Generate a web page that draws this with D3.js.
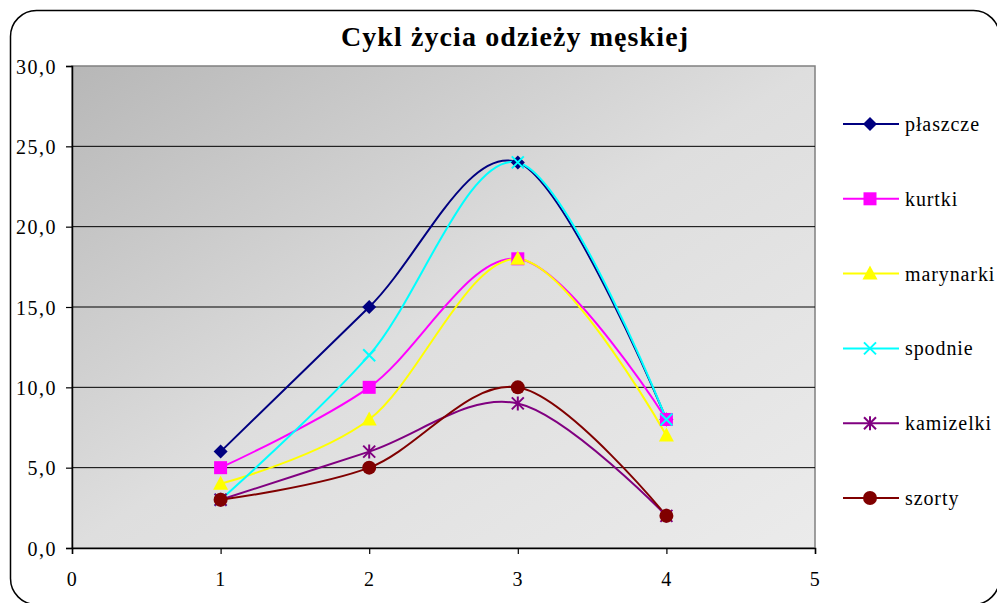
<!DOCTYPE html>
<html>
<head>
<meta charset="utf-8">
<script src="https://cdn.jsdelivr.net/npm/d3@7"></script>
<style>
  body { margin: 0; background: #fff; }
  svg, svg text { font-family: "Liberation Serif", "Times New Roman", Times, serif; }
</style>
</head>
<body>
<div id="chart"></div>
<script>
const width = 997, height = 603;
const margin = { top: 66, right: 182, bottom: 55, left: 72 };
const serif = "'Liberation Serif', 'Times New Roman', Times, serif";

// Data
const xValues = [1, 2, 3, 4];
const seriesNames = ["płaszcze", "kurtki", "marynarki", "spodnie", "kamizelki", "szorty"];
const plaszcze = [6, 15, 24, 8];
const kurtki = [5, 10, 18, 8];
const marynarki = [4, 8, 18, 7];
const spodnie = [3, 12, 24, 8];
const kamizelki = [3, 6, 9, 2];
const szorty = [3, 5, 10, 2];
const seriesColors = ["#000080", "#ff00ff", "#ffff00", "#00ffff", "#800080", "#800000"];
const seriesMarkers = ["diamond", "square", "triangle", "x", "asterisk", "circle"];
const yTicks = [0, 5, 10, 15, 20, 25, 30];
const xTicks = [0, 1, 2, 3, 4, 5];

const allValues = [plaszcze, kurtki, marynarki, spodnie, kamizelki, szorty];
const series = seriesNames.map((name, i) => ({
    name,
    color: seriesColors[i],
    marker: seriesMarkers[i],
    values: xValues.map((x, j) => ({ x, y: allValues[i][j] }))
}));

const svg = d3.select("#chart").append("svg")
    .attr("width", width)
    .attr("height", height)
    .attr("font-family", serif);

// Outer rounded frame (runs slightly past the right and bottom edges)
svg.append("rect")
    .attr("x", 10.5).attr("y", 10.5)
    .attr("width", 989).attr("height", 594)
    .attr("rx", 26).attr("ry", 26)
    .attr("fill", "#fff")
    .attr("stroke", "#000")
    .attr("stroke-width", 1.5);

const xScale = d3.scaleLinear().domain([0, 5]).range([margin.left, width - margin.right]);
const yScale = d3.scaleLinear().domain([0, 30]).range([height - margin.bottom, margin.top]);

// Gradient background
const grad = svg.append("defs").append("linearGradient")
    .attr("id", "bg")
    .attr("x1", "0").attr("y1", "0").attr("x2", "1").attr("y2", "1");
grad.append("stop").attr("offset", "0%").attr("stop-color", "#b7b7b7");
grad.append("stop").attr("offset", "50%").attr("stop-color", "#dedede");
grad.append("stop").attr("offset", "100%").attr("stop-color", "#ebebeb");

const px0 = xScale(0), px1 = xScale(5), py0 = yScale(30), py1 = yScale(0);
svg.append("rect")
    .attr("x", px0).attr("y", py0)
    .attr("width", px1 - px0).attr("height", py1 - py0)
    .attr("fill", "url(#bg)")
    .attr("stroke", "#808080")
    .attr("stroke-width", 1.5);

// Gridlines
svg.append("g")
    .selectAll("line")
    .data(yTicks.filter(d => d > 0 && d < 30))
    .join("line")
    .attr("x1", px0).attr("x2", px1)
    .attr("y1", d => yScale(d)).attr("y2", d => yScale(d))
    .attr("stroke", "#000")
    .attr("stroke-width", 1);

// Axes
const yAxis = svg.append("g")
    .attr("transform", `translate(${px0},0)`)
    .call(d3.axisLeft(yScale).tickValues(yTicks).tickSize(6).tickPadding(9)
        .tickFormat(d => d3.format(".1f")(d).replace(".", ",")));
const xAxis = svg.append("g")
    .attr("transform", `translate(0,${py1})`)
    .call(d3.axisBottom(xScale).tickValues(xTicks).tickSize(6).tickPadding(18).tickFormat(d3.format("d")));

[xAxis, yAxis].forEach(ax => {
    ax.attr("font-family", serif).attr("font-size", 20);
    ax.select(".domain").attr("stroke", "#000").attr("stroke-width", 1.5);
    ax.selectAll(".tick line").attr("stroke", "#000").attr("stroke-width", 1.2);
    ax.selectAll("text").attr("fill", "#000").attr("letter-spacing", 1.5);
});
yAxis.selectAll("text").attr("dy", "0.35em");

// Lines (smoothed like Excel)
const line = d3.line()
    .x(d => xScale(d.x))
    .y(d => yScale(d.y))
    .curve(d3.curveCatmullRom.alpha(0));

// Marker shapes
function drawMarker(g, type, color) {
    if (type === "diamond") {
        g.append("path").attr("d", "M0,-7L7,0L0,7L-7,0Z").attr("fill", color);
    } else if (type === "square") {
        g.append("rect").attr("x", -6.5).attr("y", -6.5).attr("width", 13).attr("height", 13).attr("fill", color);
    } else if (type === "triangle") {
        g.append("path").attr("d", "M0,-8L7.5,6L-7.5,6Z").attr("fill", color);
    } else if (type === "x") {
        g.append("path").attr("d", "M-6,-6L6,6M-6,6L6,-6").attr("stroke", color).attr("stroke-width", 2).attr("fill", "none");
    } else if (type === "asterisk") {
        g.append("path").attr("d", "M-6,-6L6,6M-6,6L6,-6M0,-7L0,7").attr("stroke", color).attr("stroke-width", 2).attr("fill", "none");
    } else if (type === "circle") {
        g.append("circle").attr("r", 7).attr("fill", color);
    }
}

const plot = svg.append("g");
series.forEach(s => {
    plot.append("path")
        .datum(s.values)
        .attr("d", line)
        .attr("fill", "none")
        .attr("stroke", s.color)
        .attr("stroke-width", 2);
});
series.forEach(s => {
    s.values.forEach(d => {
        const g = plot.append("g").attr("transform", `translate(${xScale(d.x)},${yScale(d.y)})`);
        drawMarker(g, s.marker, s.color);
    });
});

// Title
svg.append("text")
    .attr("x", 515).attr("y", 46)
    .attr("text-anchor", "middle")
    .attr("font-size", 28)
    .attr("font-weight", "bold")
    .attr("letter-spacing", 1.1)
    .attr("fill", "#000")
    .text("Cykl życia odzieży męskiej");

// Legend
const legend = svg.append("g");
series.forEach((s, i) => {
    const y = 124 + i * 74.8;
    const g = legend.append("g");
    g.append("line")
        .attr("x1", 843).attr("x2", 899)
        .attr("y1", y).attr("y2", y)
        .attr("stroke", s.color).attr("stroke-width", 2);
    const m = g.append("g").attr("transform", `translate(870,${y})`);
    drawMarker(m, s.marker, s.color);
    g.append("text")
        .attr("x", 905).attr("y", y)
        .attr("dy", "0.35em")
        .attr("font-size", 20)
        .attr("letter-spacing", 0.9)
        .attr("fill", "#000")
        .text(s.name);
});
</script>
</body>
</html>
